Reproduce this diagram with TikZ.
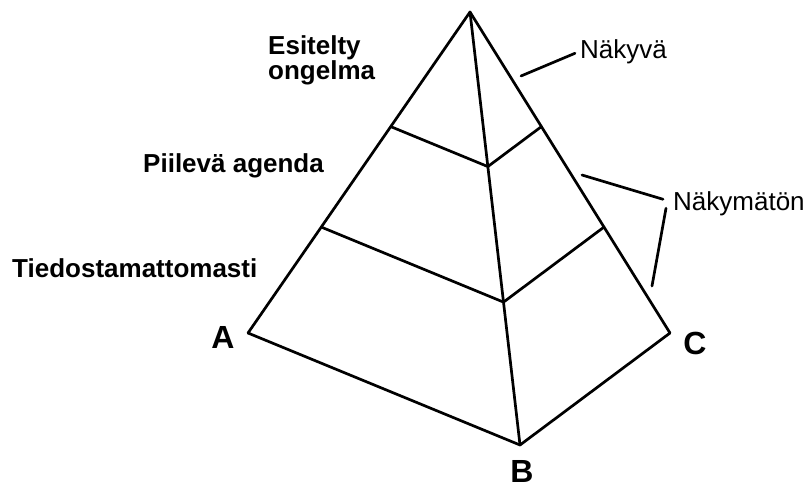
\documentclass[tikz,border=0pt]{standalone}
\usepackage{fontspec}
\setmainfont{Liberation Sans}
\usetikzlibrary{calc}
\tikzset{
  edge/.style={line width=2.7pt, line cap=round, line join=round},
  lbl/.style={inner sep=0pt, font=\fontsize{26}{25}\selectfont\bfseries},
  side/.style={inner sep=0pt, font=\fontsize{26}{25}\selectfont},
  corner/.style={inner sep=0pt, anchor=base, font=\fontsize{32}{32}\selectfont\bfseries}
}

\begin{document}
\begin{tikzpicture}[x=1pt, y=-1pt]
			%%%%% START %%%%%
			\useasboundingbox (0, 0) rectangle (808, 490);
			
			\coordinate (apex) at (470, 12);
			\coordinate (A) at (248, 333);
			\coordinate (B) at (520, 445);
			\coordinate (C) at (670, 333);
			
			% levels
			\coordinate (hiddenL) at ($(apex)!0.357!(A)$);
			\coordinate (hiddenM) at ($(apex)!0.357!(B)$);
			\coordinate (hiddenR) at ($(apex)!0.357!(C)$);
			\coordinate (deepL) at ($(apex)!0.67!(A)$);
			\coordinate (deepM) at ($(apex)!0.67!(B)$);
			\coordinate (deepR) at ($(apex)!0.67!(C)$);
			
			\draw[edge] (A) -- (apex) -- (C) -- (B) -- (A);
			\draw[edge] (apex) -- (B);
			\draw[edge] (hiddenL) -- (hiddenM) -- (hiddenR);
			\draw[edge] (deepL) -- (deepM) -- (deepR);
			
			% labels left
			\node[lbl, anchor=north west, align=left] (esitelty) at (268, 35) {Esitelty\\ongelma};
			\node[lbl, anchor=base west] (piileva) at (143, 172) {Piilevä agenda};
			\node[lbl, anchor=base west] (tiedost) at (12, 277) {Tiedostamattomasti};
			
			% corners
			\node[corner] (labA) at (223, 348) {A};
			\node[corner] (labB) at (522, 482) {B};
			\node[corner] (labC) at (695, 354) {C};
			
			% labels right
			\node[side, anchor=base west] (nakyva) at (580, 58) {Näkyvä};
			\node[side, anchor=base west] (nakymaton) at (673, 210) {Näkymätön};
			
			\coordinate (visEnd) at (521, 76);
			\coordinate (hidEndA) at (582, 175);
			\coordinate (hidEndB) at (652, 286);
			\draw[edge] (visEnd) -- ($(nakyva.west)+(-5, 2)$);
			\draw[edge] (hidEndA) -- ($(nakymaton.west)+(-10, -4)$);
			\draw[edge] (hidEndB) -- ($(nakymaton.west)+(-7, 5)$);
			
			%%%%% END %%%%%
		\end{tikzpicture}
\end{document}
